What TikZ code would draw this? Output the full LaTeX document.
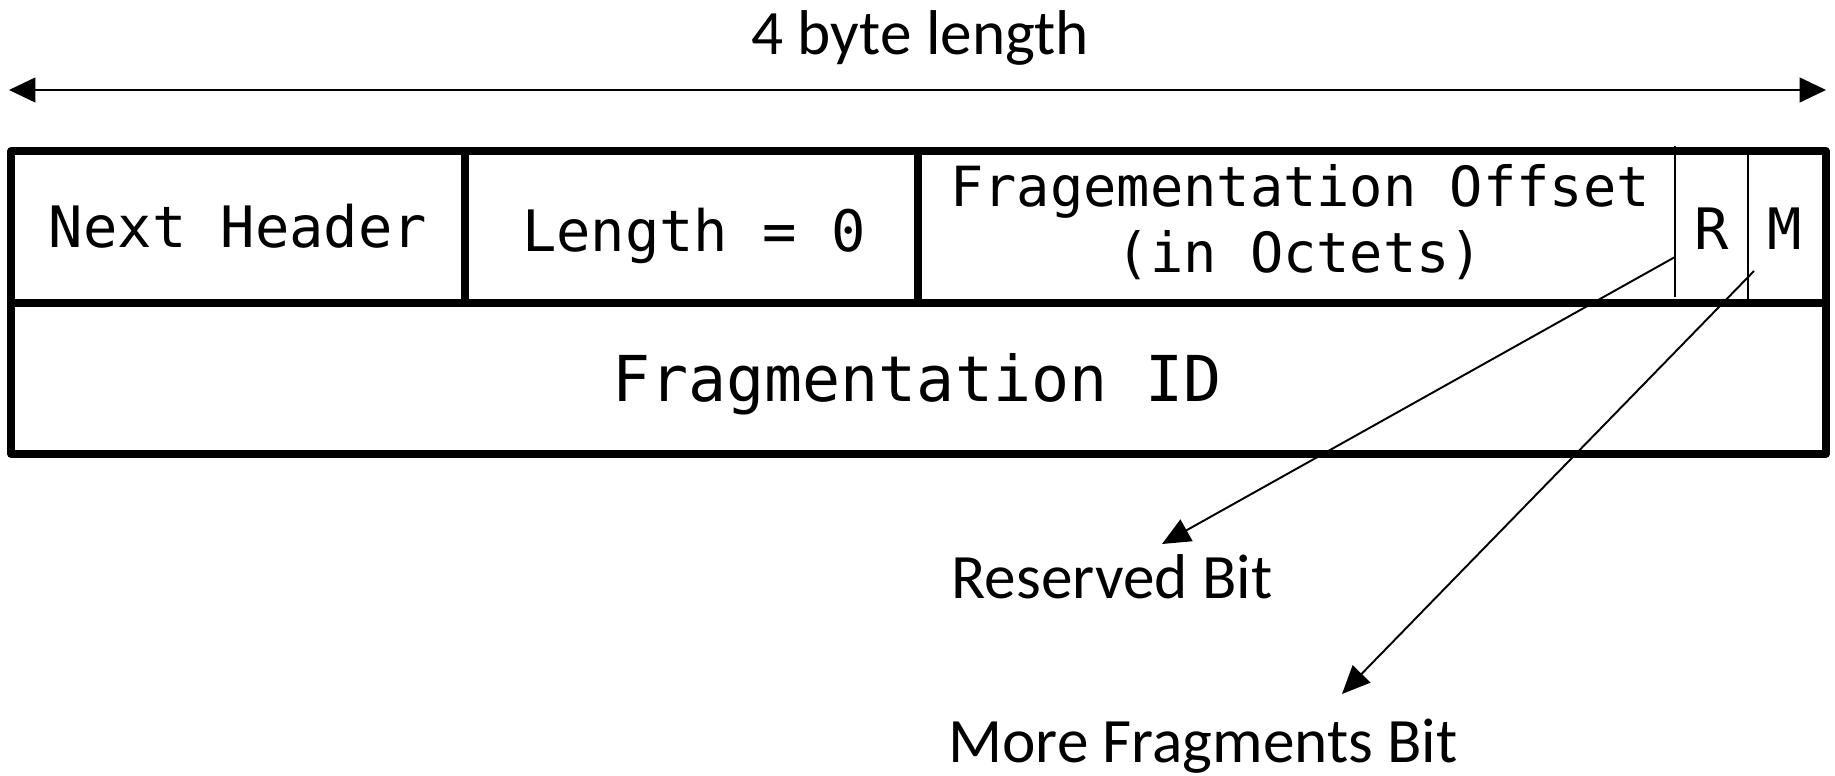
\documentclass[tikz,border=0pt]{standalone}
\usepackage{fontspec}
\setmainfont{Carlito}
\newfontfamily\fieldfont{DejaVu Sans Mono}
\usetikzlibrary{arrows.meta}

\begin{document}
\begin{tikzpicture}[x=0.02cm, y=-0.02cm,
    thickrule/.style={line width=4.2pt, line join=round},
    thinrule/.style={line width=1pt},
    ptr/.style={line width=1.1pt, -{Triangle[length=16pt, width=14pt]}},
    field/.style={font=\fieldfont\fontsize{32.5}{39}\selectfont, anchor=base, inner sep=0pt},
    lbl/.style={font=\fontsize{36}{43}\selectfont, anchor=base, inner sep=0pt}]
  \useasboundingbox (0,0) rectangle (1835,776);
  % total width of the header
  \node[lbl] (width) at (920,55) {4 byte length};
  \coordinate (wleft) at (9,90);
  \coordinate (wright) at (1826,90);
  \draw[line width=1.4pt, {Triangle[length=15pt, width=14pt]}-{Triangle[length=15pt, width=14pt]}] (wleft) -- (wright);
  % frame of the two rows
  \draw[thickrule] (11,151) rectangle (1826,454);
  \draw[thickrule] (11,303) -- (1826,303);
  \foreach \x in {465,918} {
    \draw[thickrule] (\x,151) -- (\x,303);
  }
  \draw[thinrule] (1675,146) -- (1675,297);
  \draw[thinrule] (1748,151) -- (1748,299);
  % fields (the two-line one sits on its last baseline)
  \node[field] (fnext) at (238,248) {Next Header};
  \node[field] (flength) at (694,252) {Length = 0};
  \node[field, font=\fieldfont\fontsize{31.5}{37.6}\selectfont, align=center] (foffset) at (1300,273)
    {Fragementation Offset\\(in Octets)};
  \node[field] (frbit) at (1712,250) {R};
  \node[field] (fmbit) at (1785,250) {M};
  \node[field, font=\fieldfont\fontsize{36}{43}\selectfont] (fid) at (917,402) {Fragmentation ID};
  % flag bits
  \coordinate (rtail) at (1675,257);
  \coordinate (rtip) at (1162,544);
  \coordinate (mtail) at (1754,271);
  \coordinate (mtip) at (1342,694);
  \node[lbl] (rlabel) at (1112,598) {Reserved Bit};
  \node[lbl] (mlabel) at (1203,762) {More Fragments Bit};
  \draw[ptr] (rtail) -- (rtip);
  \draw[ptr] (mtail) -- (mtip);
\end{tikzpicture}
\end{document}
